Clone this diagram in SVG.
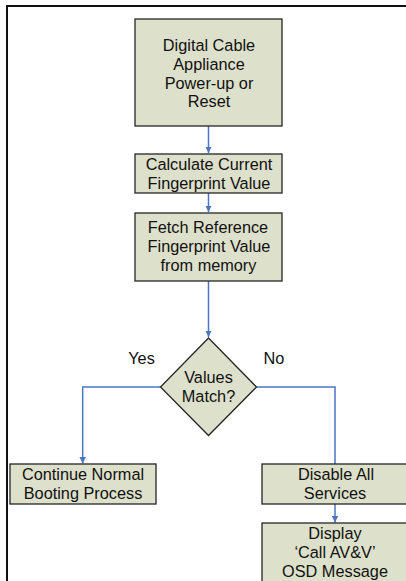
<svg xmlns="http://www.w3.org/2000/svg" width="406" height="581" viewBox="0 0 406 581">
<defs>
<style>
.box{fill:#DDE0CB;stroke:#262626;stroke-width:1.3}
.t{font-family:"Liberation Sans",Arial,sans-serif;font-size:16.3px;fill:#111;text-anchor:middle}
.c{fill:none;stroke:#4A76C4;stroke-width:1.5}
</style>
<marker id="ah" viewBox="0 0 10 10" refX="10" refY="5" markerWidth="6.5" markerHeight="7" markerUnits="userSpaceOnUse" orient="auto">
<path d="M0,0 L10,5 L0,10 Z" fill="#4A76C4"/>
</marker>
</defs>
<rect width="406" height="581" fill="#fff"/>
<path d="M7,581 V6 H406" fill="none" stroke="#111" stroke-width="2"/>
<g id="connectors">
<path class="c" d="M208.5,126 V153" marker-end="url(#ah)"/>
<path class="c" d="M208.5,193 V212" marker-end="url(#ah)"/>
<path class="c" d="M208.5,281 V337" marker-end="url(#ah)"/>
<path class="c" d="M160.5,387 H82.7 V463.5" marker-end="url(#ah)"/>
<path class="c" d="M256.5,387 H335 V464"/>
<path class="c" d="M335,504 V522.5" marker-end="url(#ah)"/>
<text class="t" x="141.5" y="364">Yes</text>
<text class="t" x="274" y="364">No</text>
</g>
<g id="start">
<rect class="box" x="135" y="19" width="147" height="107"/>
<text class="t" x="209" y="50.5">Digital Cable</text>
<text class="t" x="209" y="69.5">Appliance</text>
<text class="t" x="209" y="88.5">Power-up or</text>
<text class="t" x="209" y="107">Reset</text>
</g>
<g id="calc">
<rect class="box" x="135" y="154" width="147" height="39"/>
<text class="t" x="209" y="169.5">Calculate Current</text>
<text class="t" x="209" y="188.5">Fingerprint Value</text>
</g>
<g id="fetch">
<rect class="box" x="135" y="213" width="147" height="68"/>
<text class="t" x="208" y="233">Fetch Reference</text>
<text class="t" x="209" y="252">Fingerprint Value</text>
<text class="t" x="208.5" y="271">from memory</text>
</g>
<g id="decision">
<polygon class="box" points="208.5,338 256.5,387 208.5,435.5 160.5,387"/>
<text class="t" x="208.5" y="382.5">Values</text>
<text class="t" x="208.5" y="401.5">Match?</text>
</g>
<g id="continue">
<rect class="box" x="10" y="464" width="146" height="40"/>
<text class="t" x="83" y="479.5">Continue Normal</text>
<text class="t" x="83" y="499">Booting Process</text>
</g>
<g id="disable">
<rect class="box" x="262" y="464" width="147" height="40"/>
<text class="t" x="336" y="479.5">Disable All</text>
<text class="t" x="335" y="499">Services</text>
</g>
<g id="display">
<rect class="box" x="262" y="523" width="147" height="62"/>
<text class="t" x="335" y="538.5">Display</text>
<text class="t" x="335" y="557.5">‘Call AV&amp;V’</text>
<text class="t" x="335" y="576.5">OSD Message</text>
</g>
</svg>
